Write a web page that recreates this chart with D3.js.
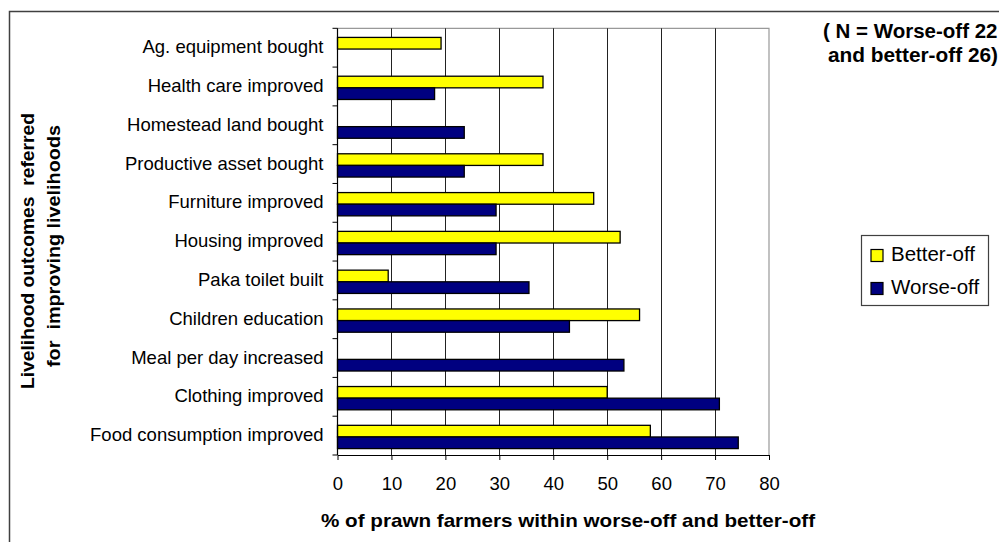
<!DOCTYPE html>
<html>
<head>
<meta charset="utf-8">
<script src="https://cdn.jsdelivr.net/npm/d3@7"></script>
<style>
  html, body { margin: 0; padding: 0; background: #fff; }
  svg { display: block; font-family: Arial, "Liberation Sans", sans-serif; }
</style>
</head>
<body>
<svg id="chart" width="999" height="542"></svg>
<script>
// Livelihood outcomes reported by prawn farmers, top to bottom
const categories = [
  "Ag. equipment bought",
  "Health care improved",
  "Homestead land bought",
  "Productive asset bought",
  "Furniture improved",
  "Housing improved",
  "Paka toilet built",
  "Children education",
  "Meal per day increased",
  "Clothing improved",
  "Food consumption improved"
];
// % of farmers in each group (null = not reported)
const betterOff = [19.2, 38.1, null, 38.1, 47.5, 52.4, 9.4, 56.0, null, 50.0, 58.0];
const worseOff  = [null, 18.0, 23.5, 23.5, 29.4, 29.4, 35.5, 43.0, 53.1, 70.8, 74.3];
const seriesNames = ["Better-off", "Worse-off"];
const seriesColors = ["#FFFF00", "#000080"];
const xTicks = [0, 10, 20, 30, 40, 50, 60, 70, 80];

const svg = d3.select("#chart");

// outer chart frame
svg.append("rect")
  .attr("x", 9.5).attr("y", 11.5)
  .attr("width", 1100).attr("height", 600)
  .attr("fill", "none").attr("stroke", "#404040").attr("stroke-width", 1.5);

const plot = { left: 337.5, right: 769, top: 28.3, bottom: 455 };

const x = d3.scaleLinear().domain([0, 80]).range([plot.left, plot.right]);
const y = d3.scaleBand().domain(categories).range([plot.top, plot.bottom]);
const sub = d3.scaleBand().domain(seriesNames)
  .range([y.bandwidth() * 0.235, y.bandwidth() * 0.835]);

// plot area border (top and right)
svg.append("path")
  .attr("d", `M${plot.left},${plot.top}H${plot.right}V${plot.bottom}`)
  .attr("fill", "none").attr("stroke", "#999").attr("stroke-width", 1.2);

// vertical gridlines
svg.append("g").selectAll("line")
  .data(xTicks.filter(t => t > 0 && t < 80))
  .join("line")
  .attr("x1", d => Math.round(x(d)) + 0.5).attr("x2", d => Math.round(x(d)) + 0.5)
  .attr("y1", plot.top).attr("y2", plot.bottom)
  .attr("stroke", "#222").attr("stroke-width", 1);

// bars
const rows = categories.map((c, i) => ({ c, vals: [betterOff[i], worseOff[i]] }));
const groups = svg.append("g").selectAll("g")
  .data(rows).join("g")
  .attr("transform", d => `translate(0,${y(d.c)})`);
groups.selectAll("rect")
  .data(d => d.vals.map((v, j) => ({ v, s: seriesNames[j], color: seriesColors[j] }))
    .filter(e => e.v != null))
  .join("rect")
  .attr("x", x(0))
  .attr("y", d => sub(d.s))
  .attr("width", d => x(d.v) - x(0))
  .attr("height", sub.bandwidth())
  .attr("fill", d => d.color)
  .attr("stroke", "#000").attr("stroke-width", 1.3);

// x axis
const xAxis = svg.append("g")
  .attr("transform", `translate(0,${plot.bottom})`)
  .call(d3.axisBottom(x).tickValues(xTicks).tickSize(5).tickPadding(17).tickSizeOuter(0));
xAxis.select(".domain").attr("stroke", "#000");
xAxis.selectAll(".tick line").attr("stroke", "#000");
xAxis.selectAll("text").attr("font-size", 18.5).attr("fill", "#000")
  .attr("font-family", "Arial, 'Liberation Sans', sans-serif");

// y axis: labels at band centres, tick marks at band boundaries
const yAxis = svg.append("g")
  .attr("transform", `translate(${plot.left},0)`)
  .call(d3.axisLeft(y).tickSize(0).tickPadding(14));
yAxis.select(".domain").remove();
yAxis.selectAll("text").attr("font-size", 18.5).attr("fill", "#000")
  .attr("dy", "0.3em")
  .attr("font-family", "Arial, 'Liberation Sans', sans-serif");
const bounds = categories.map(c => y(c)).concat([plot.bottom]);
svg.append("g").selectAll("line").data(bounds).join("line")
  .attr("x1", plot.left - 5).attr("x2", plot.left)
  .attr("y1", d => d).attr("y2", d => d)
  .attr("stroke", "#000");
svg.append("line")
  .attr("x1", plot.left).attr("x2", plot.left)
  .attr("y1", plot.top).attr("y2", plot.bottom)
  .attr("stroke", "#000").attr("stroke-width", 1.2);

// axis titles
svg.append("text")
  .attr("x", 568).attr("y", 527)
  .attr("text-anchor", "middle")
  .attr("font-size", 18.5).attr("font-weight", "bold")
  .attr("textLength", 494).attr("lengthAdjust", "spacingAndGlyphs")
  .text("% of prawn farmers within worse-off and better-off");

const yTitle = svg.append("g");
yTitle.append("text")
  .attr("transform", "translate(34,251) rotate(-90)")
  .attr("text-anchor", "middle")
  .attr("font-size", 19).attr("font-weight", "bold")
  .attr("textLength", 276).attr("lengthAdjust", "spacingAndGlyphs")
  .attr("xml:space", "preserve")
  .text("Livelihood outcomes  referred");
yTitle.append("text")
  .attr("transform", "translate(59.5,246) rotate(-90)")
  .attr("text-anchor", "middle")
  .attr("font-size", 19).attr("font-weight", "bold")
  .attr("textLength", 242).attr("lengthAdjust", "spacingAndGlyphs")
  .attr("xml:space", "preserve")
  .text("for  improving livelihoods");

// sample size note
const note = svg.append("g").attr("font-size", 20.5).attr("font-weight", "bold");
note.append("text").attr("x", 823).attr("y", 38).text("( N = Worse-off 22");
note.append("text").attr("x", 913).attr("y", 62)
  .attr("text-anchor", "middle")
  .attr("textLength", 170).attr("lengthAdjust", "spacingAndGlyphs")
  .text("and better-off 26)");

// legend
const legend = svg.append("g");
legend.append("rect")
  .attr("x", 861.5).attr("y", 235.5).attr("width", 127).attr("height", 70)
  .attr("fill", "#fff").attr("stroke", "#404040").attr("stroke-width", 1.2);
const items = legend.selectAll("g.item").data(seriesNames).join("g")
  .attr("class", "item")
  .attr("transform", (d, i) => `translate(871,${249.5 + i * 33})`);
items.append("rect")
  .attr("width", 12).attr("height", 12)
  .attr("fill", (d, i) => seriesColors[i])
  .attr("stroke", "#000").attr("stroke-width", 1.2);
items.append("text")
  .attr("x", 20).attr("y", 11.5)
  .attr("font-size", 20.5)
  .text(d => d);
</script>
</body>
</html>
